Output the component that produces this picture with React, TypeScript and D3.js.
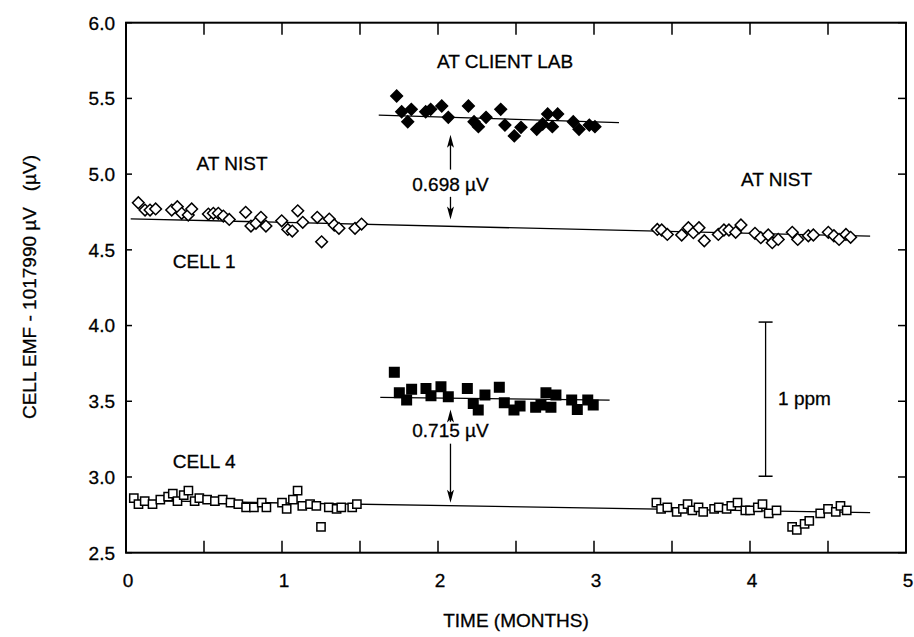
import React from "react";
import * as d3 from "d3";

const width = 914;
const height = 637;

const xTicks = [0, 1, 2, 3, 4, 5];
const yTicks = [2.5, 3.0, 3.5, 4.0, 4.5, 5.0, 5.5, 6.0];
const minorX = [0.5, 1, 1.5, 2, 2.5, 3, 3.5, 4, 4.5];

// cell 1, at NIST before shipment (open diamonds)
const c1BeforeX = [0.079, 0.122, 0.154, 0.19, 0.293, 0.329, 0.357, 0.399, 0.421, 0.528, 0.56, 0.592, 0.624, 0.662, 0.767, 0.801, 0.833, 0.865, 0.897, 0.998, 1.037, 1.066, 1.101, 1.133, 1.226, 1.254, 1.303, 1.335, 1.365, 1.468, 1.51];
const c1BeforeY = [4.811, 4.763, 4.763, 4.77, 4.763, 4.785, 4.741, 4.73, 4.77, 4.736, 4.741, 4.741, 4.723, 4.701, 4.748, 4.657, 4.675, 4.715, 4.657, 4.692, 4.635, 4.624, 4.758, 4.682, 4.715, 4.553, 4.703, 4.664, 4.642, 4.642, 4.67];

// cell 1, at client lab (filled diamonds)
const c1ClientX = [1.735, 1.767, 1.806, 1.829, 1.921, 1.953, 2.024, 2.066, 2.195, 2.231, 2.259, 2.308, 2.402, 2.429, 2.489, 2.532, 2.633, 2.671, 2.703, 2.733, 2.767, 2.867, 2.904, 2.97, 3.006];
const c1ClientY = [5.516, 5.412, 5.346, 5.428, 5.412, 5.428, 5.45, 5.375, 5.45, 5.346, 5.313, 5.375, 5.428, 5.324, 5.252, 5.309, 5.296, 5.331, 5.397, 5.313, 5.397, 5.346, 5.296, 5.324, 5.313];

// cell 1, back at NIST (open diamonds)
const c1AfterX = [3.406, 3.434, 3.47, 3.562, 3.605, 3.637, 3.673, 3.707, 3.797, 3.833, 3.865, 3.908, 3.942, 4.032, 4.069, 4.117, 4.143, 4.181, 4.271, 4.306, 4.374, 4.406, 4.502, 4.538, 4.571, 4.615, 4.645];
const c1AfterY = [4.635, 4.631, 4.602, 4.598, 4.646, 4.613, 4.646, 4.56, 4.602, 4.631, 4.631, 4.616, 4.664, 4.609, 4.58, 4.598, 4.547, 4.569, 4.616, 4.569, 4.593, 4.598, 4.616, 4.593, 4.569, 4.602, 4.583];

// cell 4, at NIST before shipment (open squares)
const c4BeforeX = [0.05, 0.08, 0.12, 0.17, 0.22, 0.27, 0.3, 0.33, 0.37, 0.4, 0.44, 0.47, 0.52, 0.57, 0.62, 0.67, 0.72, 0.77, 0.82, 0.87, 0.9, 1.0, 1.03, 1.07, 1.1, 1.13, 1.18, 1.22, 1.25, 1.3, 1.35, 1.38, 1.45, 1.48];
const c4BeforeY = [2.86, 2.82, 2.84, 2.82, 2.85, 2.87, 2.89, 2.84, 2.88, 2.91, 2.84, 2.86, 2.85, 2.84, 2.85, 2.83, 2.82, 2.8, 2.8, 2.83, 2.8, 2.83, 2.79, 2.85, 2.91, 2.81, 2.82, 2.81, 2.67, 2.8, 2.79, 2.8, 2.8, 2.82];

// cell 4, at client lab (filled squares)
const c4ClientX = [1.72, 1.752, 1.799, 1.831, 1.923, 1.955, 2.019, 2.066, 2.188, 2.226, 2.258, 2.301, 2.393, 2.425, 2.487, 2.526, 2.626, 2.66, 2.692, 2.724, 2.756, 2.857, 2.893, 2.96, 2.995];
const c4ClientY = [3.691, 3.556, 3.508, 3.579, 3.585, 3.536, 3.596, 3.53, 3.585, 3.486, 3.442, 3.541, 3.592, 3.49, 3.442, 3.468, 3.46, 3.475, 3.556, 3.46, 3.541, 3.508, 3.446, 3.508, 3.475];

// cell 4, back at NIST (open squares)
const c4AfterX = [3.4, 3.43, 3.47, 3.53, 3.57, 3.6, 3.63, 3.67, 3.7, 3.77, 3.8, 3.85, 3.88, 3.92, 3.97, 4.0, 4.05, 4.08, 4.12, 4.17, 4.27, 4.3, 4.35, 4.38, 4.45, 4.5, 4.55, 4.58, 4.62];
const c4AfterY = [2.83, 2.79, 2.8, 2.77, 2.79, 2.82, 2.78, 2.8, 2.77, 2.79, 2.8, 2.79, 2.81, 2.83, 2.78, 2.78, 2.8, 2.82, 2.76, 2.78, 2.67, 2.65, 2.69, 2.71, 2.76, 2.79, 2.77, 2.81, 2.78];

// fitted lines: [start, end]
const c1NistFitX = [0.03, 4.77];
const c1NistFitY = [4.705, 4.59];
const c1ClientFitX = [1.62, 3.16];
const c1ClientFitY = [5.39, 5.34];
const c4NistFitX = [0.03, 4.77];
const c4NistFitY = [2.845, 2.765];
const c4ClientFitX = [1.63, 3.1];
const c4ClientFitY = [3.526, 3.508];

const font = "'Liberation Sans', Arial, Helvetica, sans-serif";

const zip = (xs: number[], ys: number[]) => xs.map((x, i) => [x, ys[i]] as [number, number]);

const App = () => {
  const x = d3.scaleLinear().domain([0, 5]).range([126, 906]);
  const y = d3.scaleLinear().domain([2.5, 6]).range([552.7, 22.7]);

  const line = d3.line<[number, number]>().x(d => x(d[0])).y(d => y(d[1]));
  const diamond = d3.symbol().type(d3.symbolSquare).size(68)();
  const square = d3.symbol().type(d3.symbolSquare).size(68)();
  const squareFilled = d3.symbol().type(d3.symbolSquare).size(90)();

  const marks = (pts: [number, number][], path: string | null, filled: boolean, rot: number) =>
    pts.map((p, i) => (
      <path
        key={i}
        d={path || ""}
        transform={`translate(${x(p[0])},${y(p[1])}) rotate(${rot})`}
        fill={filled ? "black" : "white"}
        stroke="black"
        strokeWidth={1.5}
      />
    ));

  const arrow = (xm: number, from: number, to: number) => {
    const xp = x(xm);
    const y0 = y(from);
    const y1 = y(to);
    const dir = y1 < y0 ? 1 : -1;
    return (
      <g>
        <line x1={xp} x2={xp} y1={y0} y2={y1 + dir * 8} stroke="black" strokeWidth={1.3} />
        <path d={`M${xp},${y1} L${xp - 3.5},${y1 + dir * 13} L${xp},${y1 + dir * 10} L${xp + 3.5},${y1 + dir * 13} Z`} fill="black" />
      </g>
    );
  };

  const lbl = { fontFamily: font, fontSize: 19, fill: "black", stroke: "black", strokeWidth: 0.3 } as const;

  return (
    <svg width={width} height={height} style={{ position: "absolute", left: 0, top: 0, background: "white" }}>
      <rect width={width} height={height} fill="white" />

      {/* frame */}
      <rect x={x(0)} y={y(6)} width={x(5) - x(0)} height={y(2.5) - y(6)} fill="none" stroke="black" strokeWidth={2} />

      {yTicks.map(t => (
        <g key={t}>
          <line x1={x(0)} x2={x(0) + 6} y1={y(t)} y2={y(t)} stroke="black" strokeWidth={1.5} />
          <line x1={x(5)} x2={x(5) - 8} y1={y(t)} y2={y(t)} stroke="black" strokeWidth={1.5} />
          <text x={115} y={y(t)} dy="0.36em" textAnchor="end" style={lbl}>{t.toFixed(1)}</text>
        </g>
      ))}
      {minorX.map(t => (
        <g key={t}>
          <line x1={x(t)} x2={x(t)} y1={y(2.5)} y2={y(2.5) - 12} stroke="black" strokeWidth={1.5} />
          <line x1={x(t)} x2={x(t)} y1={y(6)} y2={y(6) + 12} stroke="black" strokeWidth={1.5} />
        </g>
      ))}
      {xTicks.map(t => (
        <text key={t} x={x(t) + 2} y={587} textAnchor="middle" style={lbl}>{t}</text>
      ))}

      <text x={516} y={627} textAnchor="middle" style={lbl}>TIME (MONTHS)</text>
      <text transform="translate(36,287) rotate(-90)" textAnchor="middle" style={lbl} xmlSpace="preserve">CELL EMF - 1017990 µV   (µV)</text>

      {/* fitted lines */}
      {[zip(c1NistFitX, c1NistFitY), zip(c1ClientFitX, c1ClientFitY), zip(c4NistFitX, c4NistFitY), zip(c4ClientFitX, c4ClientFitY)].map((l, i) => (
        <path key={i} d={line(l) || ""} fill="none" stroke="black" strokeWidth={1.3} />
      ))}

      {marks(zip(c1BeforeX, c1BeforeY), diamond, false, 45)}
      {marks(zip(c1AfterX, c1AfterY), diamond, false, 45)}
      {marks(zip(c1ClientX, c1ClientY), diamond, true, 45)}
      {marks(zip(c4BeforeX, c4BeforeY), square, false, 0)}
      {marks(zip(c4AfterX, c4AfterY), square, false, 0)}
      {marks(zip(c4ClientX, c4ClientY), squareFilled, true, 0)}

      {/* annotations */}
      <text x={x(2.43)} y={y(5.7)} textAnchor="middle" style={lbl}>AT CLIENT LAB</text>
      <text x={x(0.68)} y={y(5.03)} textAnchor="middle" style={lbl}>AT NIST</text>
      <text x={x(4.17)} y={y(4.92)} textAnchor="middle" style={lbl}>AT NIST</text>
      <text x={x(0.3)} y={y(4.38)} textAnchor="start" style={lbl}>CELL 1</text>
      <text x={x(0.3)} y={y(3.06)} textAnchor="start" style={lbl}>CELL 4</text>

      {arrow(2.08, 5.03, 5.26)}
      <text x={x(2.08)} y={y(4.93)} dy="0.35em" textAnchor="middle" style={lbl}>0.698 µV</text>
      {arrow(2.08, 4.85, 4.70)}

      {arrow(2.08, 3.365, 3.445)}
      <text x={x(2.08)} y={y(3.31)} dy="0.35em" textAnchor="middle" style={lbl}>0.715 µV</text>
      {arrow(2.08, 3.22, 2.83)}

      {/* 1 ppm scale bar */}
      <line x1={x(4.1)} x2={x(4.1)} y1={y(3.005)} y2={y(4.023)} stroke="black" strokeWidth={1.3} />
      <line x1={x(4.1) - 7} x2={x(4.1) + 7} y1={y(3.005)} y2={y(3.005)} stroke="black" strokeWidth={1.5} />
      <line x1={x(4.1) - 7} x2={x(4.1) + 7} y1={y(4.023)} y2={y(4.023)} stroke="black" strokeWidth={1.5} />
      <text x={x(4.18)} y={y(3.52)} dy="0.35em" style={lbl}>1 ppm</text>
    </svg>
  );
};

export default App;
